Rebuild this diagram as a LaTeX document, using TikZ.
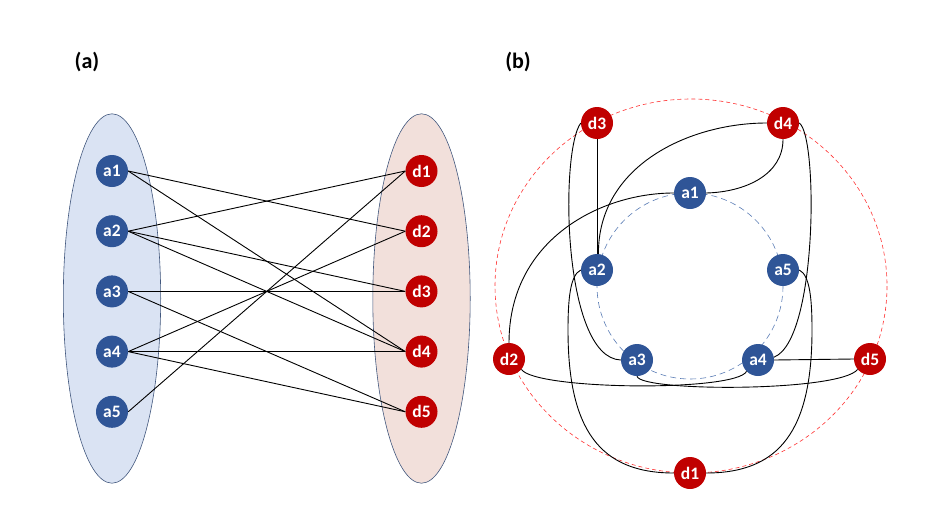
\documentclass[tikz,border=0pt]{standalone}
\usepackage{fontspec}
\setmainfont{Carlito}
\definecolor{ablue}{HTML}{2F5597}
\definecolor{dred}{HTML}{C00000}
\definecolor{lblue}{HTML}{DAE3F3}
\definecolor{lpink}{HTML}{F2E0DB}
\definecolor{eborder}{HTML}{41577D}
\definecolor{cblue}{HTML}{5B7DB5}
\definecolor{cred}{HTML}{FF3333}
\tikzset{
  anode/.style={circle, fill=ablue, text=white, font=\bfseries\fontsize{17.5}{17.5}\selectfont, minimum size=32pt, inner sep=0pt},
  dnode/.style={circle, fill=dred, text=white, font=\bfseries\fontsize{17.5}{17.5}\selectfont, minimum size=32pt, inner sep=0pt},
  edge/.style={draw=black, line width=0.9pt},
  setell/.style={line width=0.6pt, draw=eborder},
  panel/.style={font=\bfseries\fontsize{22}{22}\selectfont, text=black},
}
\begin{document}
\begin{tikzpicture}[x=1pt, y=-1pt]
\useasboundingbox (0,0) rectangle (933,522);
% ---------- panel (a) ----------
\node[panel] (la) at (87,62) {(a)};
\draw[setell, fill=lblue] (112,298.5) ellipse [x radius=48.7, y radius=184.7];
\draw[setell, fill=lpink] (421.5,298.5) ellipse [x radius=48.7, y radius=184.7];
\foreach \i/\y in {1/171,2/231.2,3/291.4,4/351.6,5/411.8}{
  \node[anode] (A\i) at (112,\y) {a\i};
  \node[dnode] (D\i) at (421.5,\y) {d\i};
}
\foreach \a/\d in {1/2,1/4,2/1,2/3,2/4,3/3,3/5,4/2,4/4,4/5,5/1}{
  \draw[edge] (A\a.east) -- (D\d.west);
}
% ---------- panel (b) ----------
\node[panel] (lb) at (518,62) {(b)};
\draw[cred, dash pattern=on 4pt off 3pt, line width=0.6pt] (691,286) ellipse [x radius=196, y radius=187];
\draw[cblue, dash pattern=on 6pt off 4pt, line width=0.6pt] (690,286) circle [radius=93];
\node[anode] (b1) at (690,193) {a1};
\node[anode] (b2) at (597,270) {a2};
\node[anode] (b3) at (637,360) {a3};
\node[anode] (b4) at (758,360) {a4};
\node[anode] (b5) at (783,270) {a5};
\node[dnode] (e1) at (690,473) {d1};
\node[dnode] (e2) at (509,359) {d2};
\node[dnode] (e3) at (597,123) {d3};
\node[dnode] (e4) at (783,123) {d4};
\node[dnode] (e5) at (870,359) {d5};
\draw[edge] (e3.south) -- (b2.north);
\draw[edge] (e3.west) .. controls (560,150) and (562,358) .. (b3.west);
\draw[edge] (e4.west) .. controls (690,123) and (598,165) .. (b2.85);
\draw[edge] (e4.south) .. controls (783,175) and (745,192) .. (b1.east);
\draw[edge] (e4.east) .. controls (818,135) and (818,340) .. (b4.10);
\draw[edge] (b1.west) .. controls (600,193) and (509,240) .. (e2.north);
\draw[edge] (b2.west) .. controls (570,275) and (568,300) .. (568,330) .. controls (568,430) and (600,473) .. (e1.west);
\draw[edge] (b5.east) .. controls (810,275) and (812,300) .. (812,330) .. controls (812,430) and (780,473) .. (e1.east);
\draw[edge] (b3.south) .. controls (640,392) and (840,392) .. (e5.220);
\draw[edge] (b4.225) .. controls (735,392) and (535,390) .. (e2.-40);
\draw[edge] (b4.east) -- (e5.west);
\end{tikzpicture}
\end{document}
